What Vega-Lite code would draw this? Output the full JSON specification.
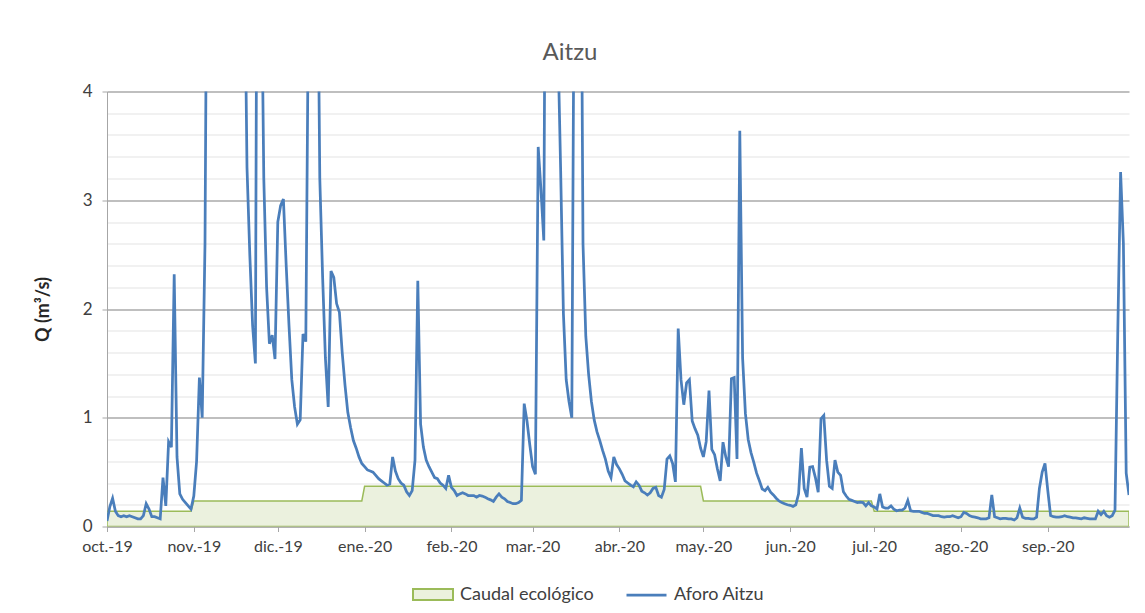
{
"$schema":"https://vega.github.io/schema/vega-lite/v6.json",
"width":1022,"height":435,"autosize":"none",
"padding":{"left":107,"top":91.5,"right":16,"bottom":86.5},
"background":"white",
"title":{"text":"Aitzu","font":"Lato","fontSize":24,"fontWeight":"normal","color":"#595959","anchor":"middle","dx":-48,"offset":18},
"encoding":{
 "x":{"field":"t","type":"temporal","scale":{"type":"utc","domain":[{"year":2019,"month":10,"date":1,"utc":true},{"year":2020,"month":9,"date":30,"utc":true}]},
  "axis":{"title":null,"tickCount":{"interval":"month","step":1},"labelExpr":"['ene.','feb.','mar.','abr.','may.','jun.','jul.','ago.','sep.','oct.','nov.','dic.'][utcmonth(datum.value)] + '-' + utcFormat(datum.value, '%y')","domainColor":"#a6a6a6","tickColor":"#a6a6a6","tickSize":5,"grid":false,"labelFont":"Lato","labelFontSize":16,"labelColor":"#404040","labelPadding":7,"labelFlush":false,"labelOverlap":false}},
 "y":{"field":"q","type":"quantitative","scale":{"domain":[0,4],"nice":false},
  "axis":{"title":"Q (m³/s)","values":[0,0.2,0.4,0.6,0.8,1,1.2,1.4,1.6,1.8,2,2.2,2.4,2.6,2.8,3,3.2,3.4,3.6,3.8,4],
   "labelExpr":"datum.value % 1 === 0 ? format(datum.value, 'd') : ''",
   "gridColor":{"condition":{"test":"datum.value % 1 === 0","value":"#aaaaaa"},"value":"#ececec"},
   "gridWidth":1.5,
   "tickColor":{"condition":{"test":"datum.value % 1 === 0","value":"#a6a6a6"},"value":"transparent"},
   "tickSize":5,"domainColor":"#a6a6a6","labelFont":"Lato","labelFontSize":17,"labelColor":"#404040","labelPadding":10,
   "titleFont":"Lato","titleFontSize":18,"titleFontWeight":"bold","titleColor":"#262626","titlePadding":30}}
},
"layer":[
 {"data":{"name":"eco"},"mark":{"type":"area","stroke":"#9bbb59","strokeWidth":1.5,"clip":true},
  "encoding":{"fill":{"datum":"Caudal ecológico","scale":{"range":["#ebf1de"]},
   "legend":{"orient":"none","legendX":305,"legendY":482,"title":null,"symbolType":"M-1,-0.27H1V0.27H-1Z","symbolSize":1600,"symbolStrokeColor":"#9bbb59","symbolStrokeWidth":2,"symbolOpacity":1,"labelFont":"Lato","labelFontSize":18,"labelColor":"#404040","labelOffset":6}}}},
 {"data":{"name":"aforo"},"mark":{"type":"line","strokeWidth":2.75,"clip":true},
  "encoding":{"stroke":{"datum":"Aforo Aitzu","scale":{"range":["#4a7ebb"]},
   "legend":{"orient":"none","legendX":518,"legendY":482,"title":null,"symbolType":"stroke","symbolSize":1600,"symbolStrokeWidth":2.75,"labelFont":"Lato","labelFontSize":18,"labelColor":"#404040","labelOffset":6}}}}
],
"config":{"view":{"stroke":null}},
"datasets":{
"eco":[
{"t":"2019-10-01","q":0.14},{"t":"2019-10-31","q":0.14},{"t":"2019-11-01","q":0.235},{"t":"2019-12-31","q":0.235},{"t":"2020-01-01","q":0.37},{"t":"2020-04-30","q":0.37},{"t":"2020-05-01","q":0.235},{"t":"2020-06-30","q":0.235},{"t":"2020-07-01","q":0.14},{"t":"2020-09-30","q":0.14}
],
"aforo":[
{"t":"2019-10-01","q":0.05},{"t":"2019-10-02","q":0.18},{"t":"2019-10-03","q":0.26},{"t":"2019-10-04","q":0.14},{"t":"2019-10-05","q":0.10},{"t":"2019-10-06","q":0.09},{"t":"2019-10-07","q":0.10},{"t":"2019-10-08","q":0.09},{"t":"2019-10-09","q":0.10},{"t":"2019-10-10","q":0.09},{"t":"2019-10-11","q":0.08},{"t":"2019-10-12","q":0.07},{"t":"2019-10-13","q":0.07},{"t":"2019-10-14","q":0.10},{"t":"2019-10-15","q":0.21},{"t":"2019-10-16","q":0.16},{"t":"2019-10-17","q":0.09},{"t":"2019-10-18","q":0.09},{"t":"2019-10-19","q":0.08},{"t":"2019-10-20","q":0.07},{"t":"2019-10-21","q":0.45},{"t":"2019-10-22","q":0.19},{"t":"2019-10-23","q":0.78},{"t":"2019-10-24","q":0.73},{"t":"2019-10-25","q":2.32},{"t":"2019-10-26","q":0.64},{"t":"2019-10-27","q":0.30},{"t":"2019-10-28","q":0.25},{"t":"2019-10-29","q":0.22},{"t":"2019-10-30","q":0.19},{"t":"2019-10-31","q":0.16},
{"t":"2019-11-01","q":0.28},{"t":"2019-11-02","q":0.6},{"t":"2019-11-03","q":1.37},{"t":"2019-11-04","q":1.0},{"t":"2019-11-05","q":2.6},{"t":"2019-11-06","q":7},{"t":"2019-11-07","q":12},{"t":"2019-11-08","q":10},{"t":"2019-11-09","q":8},{"t":"2019-11-10","q":6.5},{"t":"2019-11-11","q":8},{"t":"2019-11-12","q":11},{"t":"2019-11-13","q":9},{"t":"2019-11-14","q":7.5},{"t":"2019-11-15","q":6.5},{"t":"2019-11-16","q":8},{"t":"2019-11-17","q":7},{"t":"2019-11-18","q":6},{"t":"2019-11-19","q":5.5},{"t":"2019-11-20","q":3.3},{"t":"2019-11-21","q":2.5},{"t":"2019-11-22","q":1.85},{"t":"2019-11-23","q":1.5},{"t":"2019-11-24","q":9},{"t":"2019-11-25","q":5.5},{"t":"2019-11-26","q":3.2},{"t":"2019-11-27","q":2.2},{"t":"2019-11-28","q":1.68},{"t":"2019-11-29","q":1.76},{"t":"2019-11-30","q":1.54},
{"t":"2019-12-01","q":2.8},{"t":"2019-12-02","q":2.95},{"t":"2019-12-03","q":3.01},{"t":"2019-12-04","q":2.4},{"t":"2019-12-05","q":1.85},{"t":"2019-12-06","q":1.35},{"t":"2019-12-07","q":1.1},{"t":"2019-12-08","q":0.94},{"t":"2019-12-09","q":0.98},{"t":"2019-12-10","q":1.77},{"t":"2019-12-11","q":1.7},{"t":"2019-12-12","q":5},{"t":"2019-12-13","q":10},{"t":"2019-12-14","q":9},{"t":"2019-12-15","q":6},{"t":"2019-12-16","q":3.2},{"t":"2019-12-17","q":2.3},{"t":"2019-12-18","q":1.55},{"t":"2019-12-19","q":1.1},{"t":"2019-12-20","q":2.35},{"t":"2019-12-21","q":2.29},{"t":"2019-12-22","q":2.05},{"t":"2019-12-23","q":1.97},{"t":"2019-12-24","q":1.6},{"t":"2019-12-25","q":1.3},{"t":"2019-12-26","q":1.05},{"t":"2019-12-27","q":0.91},{"t":"2019-12-28","q":0.79},{"t":"2019-12-29","q":0.72},{"t":"2019-12-30","q":0.64},{"t":"2019-12-31","q":0.58},
{"t":"2020-01-01","q":0.55},{"t":"2020-01-02","q":0.52},{"t":"2020-01-03","q":0.51},{"t":"2020-01-04","q":0.50},{"t":"2020-01-05","q":0.47},{"t":"2020-01-06","q":0.44},{"t":"2020-01-07","q":0.42},{"t":"2020-01-08","q":0.40},{"t":"2020-01-09","q":0.38},{"t":"2020-01-10","q":0.39},{"t":"2020-01-11","q":0.64},{"t":"2020-01-12","q":0.51},{"t":"2020-01-13","q":0.44},{"t":"2020-01-14","q":0.40},{"t":"2020-01-15","q":0.38},{"t":"2020-01-16","q":0.32},{"t":"2020-01-17","q":0.285},{"t":"2020-01-18","q":0.33},{"t":"2020-01-19","q":0.61},{"t":"2020-01-20","q":2.26},{"t":"2020-01-21","q":0.94},{"t":"2020-01-22","q":0.73},{"t":"2020-01-23","q":0.61},{"t":"2020-01-24","q":0.55},{"t":"2020-01-25","q":0.50},{"t":"2020-01-26","q":0.45},{"t":"2020-01-27","q":0.44},{"t":"2020-01-28","q":0.40},{"t":"2020-01-29","q":0.38},{"t":"2020-01-30","q":0.35},{"t":"2020-01-31","q":0.47},
{"t":"2020-02-01","q":0.36},{"t":"2020-02-02","q":0.33},{"t":"2020-02-03","q":0.285},{"t":"2020-02-04","q":0.30},{"t":"2020-02-05","q":0.31},{"t":"2020-02-06","q":0.30},{"t":"2020-02-07","q":0.285},{"t":"2020-02-08","q":0.285},{"t":"2020-02-09","q":0.285},{"t":"2020-02-10","q":0.27},{"t":"2020-02-11","q":0.285},{"t":"2020-02-12","q":0.28},{"t":"2020-02-13","q":0.27},{"t":"2020-02-14","q":0.255},{"t":"2020-02-15","q":0.245},{"t":"2020-02-16","q":0.23},{"t":"2020-02-17","q":0.27},{"t":"2020-02-18","q":0.30},{"t":"2020-02-19","q":0.27},{"t":"2020-02-20","q":0.255},{"t":"2020-02-21","q":0.23},{"t":"2020-02-22","q":0.22},{"t":"2020-02-23","q":0.21},{"t":"2020-02-24","q":0.21},{"t":"2020-02-25","q":0.22},{"t":"2020-02-26","q":0.24},{"t":"2020-02-27","q":1.13},{"t":"2020-02-28","q":0.97},{"t":"2020-02-29","q":0.75},
{"t":"2020-03-01","q":0.55},{"t":"2020-03-02","q":0.48},{"t":"2020-03-03","q":3.49},{"t":"2020-03-04","q":3.09},{"t":"2020-03-05","q":2.63},{"t":"2020-03-06","q":8},{"t":"2020-03-07","q":11},{"t":"2020-03-08","q":9},{"t":"2020-03-09","q":6},{"t":"2020-03-10","q":4.5},{"t":"2020-03-11","q":3.3},{"t":"2020-03-12","q":1.96},{"t":"2020-03-13","q":1.35},{"t":"2020-03-14","q":1.15},{"t":"2020-03-15","q":1.0},{"t":"2020-03-16","q":6},{"t":"2020-03-17","q":9},{"t":"2020-03-18","q":7},{"t":"2020-03-19","q":2.6},{"t":"2020-03-20","q":1.75},{"t":"2020-03-21","q":1.4},{"t":"2020-03-22","q":1.15},{"t":"2020-03-23","q":0.98},{"t":"2020-03-24","q":0.87},{"t":"2020-03-25","q":0.79},{"t":"2020-03-26","q":0.70},{"t":"2020-03-27","q":0.62},{"t":"2020-03-28","q":0.51},{"t":"2020-03-29","q":0.45},{"t":"2020-03-30","q":0.64},{"t":"2020-03-31","q":0.57},
{"t":"2020-04-01","q":0.53},{"t":"2020-04-02","q":0.48},{"t":"2020-04-03","q":0.42},{"t":"2020-04-04","q":0.40},{"t":"2020-04-05","q":0.38},{"t":"2020-04-06","q":0.365},{"t":"2020-04-07","q":0.41},{"t":"2020-04-08","q":0.38},{"t":"2020-04-09","q":0.325},{"t":"2020-04-10","q":0.31},{"t":"2020-04-11","q":0.29},{"t":"2020-04-12","q":0.31},{"t":"2020-04-13","q":0.35},{"t":"2020-04-14","q":0.36},{"t":"2020-04-15","q":0.285},{"t":"2020-04-16","q":0.27},{"t":"2020-04-17","q":0.34},{"t":"2020-04-18","q":0.62},{"t":"2020-04-19","q":0.65},{"t":"2020-04-20","q":0.58},{"t":"2020-04-21","q":0.41},{"t":"2020-04-22","q":1.82},{"t":"2020-04-23","q":1.35},{"t":"2020-04-24","q":1.12},{"t":"2020-04-25","q":1.32},{"t":"2020-04-26","q":1.35},{"t":"2020-04-27","q":0.97},{"t":"2020-04-28","q":0.90},{"t":"2020-04-29","q":0.84},{"t":"2020-04-30","q":0.72},
{"t":"2020-05-01","q":0.64},{"t":"2020-05-02","q":0.78},{"t":"2020-05-03","q":1.25},{"t":"2020-05-04","q":0.71},{"t":"2020-05-05","q":0.66},{"t":"2020-05-06","q":0.53},{"t":"2020-05-07","q":0.42},{"t":"2020-05-08","q":0.775},{"t":"2020-05-09","q":0.64},{"t":"2020-05-10","q":0.55},{"t":"2020-05-11","q":1.36},{"t":"2020-05-12","q":1.37},{"t":"2020-05-13","q":0.62},{"t":"2020-05-14","q":3.64},{"t":"2020-05-15","q":1.55},{"t":"2020-05-16","q":1.04},{"t":"2020-05-17","q":0.80},{"t":"2020-05-18","q":0.68},{"t":"2020-05-19","q":0.59},{"t":"2020-05-20","q":0.49},{"t":"2020-05-21","q":0.42},{"t":"2020-05-22","q":0.345},{"t":"2020-05-23","q":0.33},{"t":"2020-05-24","q":0.36},{"t":"2020-05-25","q":0.315},{"t":"2020-05-26","q":0.29},{"t":"2020-05-27","q":0.26},{"t":"2020-05-28","q":0.235},{"t":"2020-05-29","q":0.22},{"t":"2020-05-30","q":0.21},{"t":"2020-05-31","q":0.20},
{"t":"2020-06-01","q":0.195},{"t":"2020-06-02","q":0.185},{"t":"2020-06-03","q":0.2},{"t":"2020-06-04","q":0.30},{"t":"2020-06-05","q":0.72},{"t":"2020-06-06","q":0.35},{"t":"2020-06-07","q":0.27},{"t":"2020-06-08","q":0.545},{"t":"2020-06-09","q":0.55},{"t":"2020-06-10","q":0.45},{"t":"2020-06-11","q":0.315},{"t":"2020-06-12","q":0.99},{"t":"2020-06-13","q":1.02},{"t":"2020-06-14","q":0.61},{"t":"2020-06-15","q":0.37},{"t":"2020-06-16","q":0.35},{"t":"2020-06-17","q":0.61},{"t":"2020-06-18","q":0.50},{"t":"2020-06-19","q":0.47},{"t":"2020-06-20","q":0.32},{"t":"2020-06-21","q":0.28},{"t":"2020-06-22","q":0.25},{"t":"2020-06-23","q":0.24},{"t":"2020-06-24","q":0.23},{"t":"2020-06-25","q":0.22},{"t":"2020-06-26","q":0.225},{"t":"2020-06-27","q":0.22},{"t":"2020-06-28","q":0.19},{"t":"2020-06-29","q":0.22},{"t":"2020-06-30","q":0.19},
{"t":"2020-07-01","q":0.18},{"t":"2020-07-02","q":0.16},{"t":"2020-07-03","q":0.30},{"t":"2020-07-04","q":0.18},{"t":"2020-07-05","q":0.17},{"t":"2020-07-06","q":0.17},{"t":"2020-07-07","q":0.19},{"t":"2020-07-08","q":0.16},{"t":"2020-07-09","q":0.145},{"t":"2020-07-10","q":0.15},{"t":"2020-07-11","q":0.15},{"t":"2020-07-12","q":0.17},{"t":"2020-07-13","q":0.24},{"t":"2020-07-14","q":0.145},{"t":"2020-07-15","q":0.14},{"t":"2020-07-16","q":0.14},{"t":"2020-07-17","q":0.14},{"t":"2020-07-18","q":0.13},{"t":"2020-07-19","q":0.12},{"t":"2020-07-20","q":0.12},{"t":"2020-07-21","q":0.11},{"t":"2020-07-22","q":0.10},{"t":"2020-07-23","q":0.10},{"t":"2020-07-24","q":0.10},{"t":"2020-07-25","q":0.09},{"t":"2020-07-26","q":0.086},{"t":"2020-07-27","q":0.09},{"t":"2020-07-28","q":0.09},{"t":"2020-07-29","q":0.10},{"t":"2020-07-30","q":0.09},{"t":"2020-07-31","q":0.08},
{"t":"2020-08-01","q":0.09},{"t":"2020-08-02","q":0.13},{"t":"2020-08-03","q":0.12},{"t":"2020-08-04","q":0.10},{"t":"2020-08-05","q":0.09},{"t":"2020-08-06","q":0.086},{"t":"2020-08-07","q":0.08},{"t":"2020-08-08","q":0.07},{"t":"2020-08-09","q":0.07},{"t":"2020-08-10","q":0.07},{"t":"2020-08-11","q":0.08},{"t":"2020-08-12","q":0.29},{"t":"2020-08-13","q":0.09},{"t":"2020-08-14","q":0.08},{"t":"2020-08-15","q":0.07},{"t":"2020-08-16","q":0.075},{"t":"2020-08-17","q":0.075},{"t":"2020-08-18","q":0.07},{"t":"2020-08-19","q":0.07},{"t":"2020-08-20","q":0.06},{"t":"2020-08-21","q":0.08},{"t":"2020-08-22","q":0.17},{"t":"2020-08-23","q":0.086},{"t":"2020-08-24","q":0.075},{"t":"2020-08-25","q":0.075},{"t":"2020-08-26","q":0.07},{"t":"2020-08-27","q":0.07},{"t":"2020-08-28","q":0.086},{"t":"2020-08-29","q":0.35},{"t":"2020-08-30","q":0.5},{"t":"2020-08-31","q":0.58},
{"t":"2020-09-01","q":0.33},{"t":"2020-09-02","q":0.10},{"t":"2020-09-03","q":0.09},{"t":"2020-09-04","q":0.086},{"t":"2020-09-05","q":0.086},{"t":"2020-09-06","q":0.09},{"t":"2020-09-07","q":0.10},{"t":"2020-09-08","q":0.09},{"t":"2020-09-09","q":0.086},{"t":"2020-09-10","q":0.08},{"t":"2020-09-11","q":0.08},{"t":"2020-09-12","q":0.075},{"t":"2020-09-13","q":0.07},{"t":"2020-09-14","q":0.08},{"t":"2020-09-15","q":0.075},{"t":"2020-09-16","q":0.07},{"t":"2020-09-17","q":0.07},{"t":"2020-09-18","q":0.07},{"t":"2020-09-19","q":0.14},{"t":"2020-09-20","q":0.11},{"t":"2020-09-21","q":0.14},{"t":"2020-09-22","q":0.10},{"t":"2020-09-23","q":0.086},{"t":"2020-09-24","q":0.10},{"t":"2020-09-25","q":0.15},{"t":"2020-09-26","q":1.8},{"t":"2020-09-27","q":3.26},{"t":"2020-09-28","q":2.6},{"t":"2020-09-29","q":0.49},{"t":"2020-09-30","q":0.29}
]
}
}
